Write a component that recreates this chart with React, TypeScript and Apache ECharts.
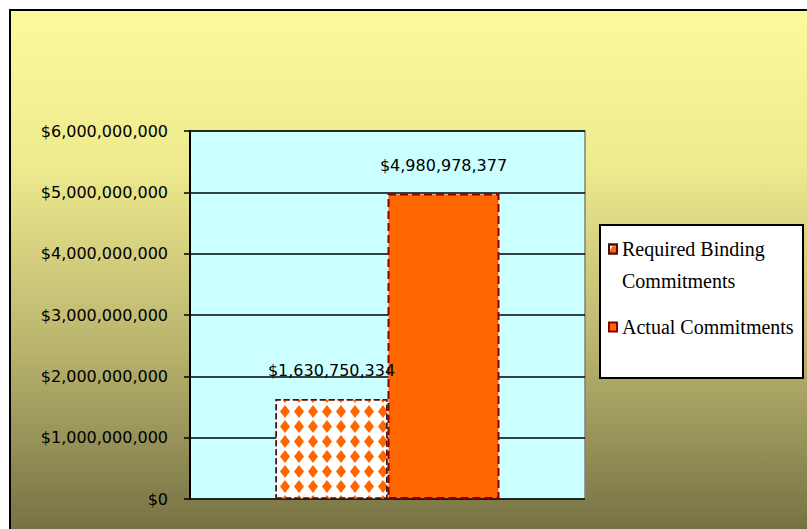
import React, { useEffect, useRef } from "react";
import * as echarts from "echarts";

const categories = ["Commitments"];
const seriesNames = ["Required Binding Commitments", "Actual Commitments"];
const requiredBinding = [1630750334];
const actualCommitments = [4980978377];
const yMin = 0;
const yMax = 6000000000;
const yInterval = 1000000000;

const fmt = (v: number) => "$" + Math.round(v).toLocaleString("en-US");

export default function App() {
  const ref = useRef<HTMLDivElement>(null);
  useEffect(() => {
    if (!ref.current) return;
    const chart = echarts.init(ref.current, null, { renderer: "svg" });
    const labelStyle = {
      show: true,
      position: "top" as const,
      distance: 20,
      color: "#000",
      fontFamily: "DejaVu Sans",
      fontSize: 16,
      formatter: (p: any) => fmt(p.value),
    };
    chart.setOption({
      animation: false,
      graphic: [
        {
          type: "rect",
          z: -10,
          shape: { x: 10, y: 10, width: 820, height: 560 },
          style: {
            fill: new echarts.graphic.LinearGradient(
              0, 10, 0, 529,
              [
                { offset: 0, color: "#fbfb9b" },
                { offset: 0.3, color: "#eeea8e" },
                { offset: 0.65, color: "#b9b46e" },
                { offset: 1, color: "#767244" },
              ],
              true
            ),
            stroke: "#000",
            lineWidth: 2,
          },
        },
        {
          type: "rect",
          z: 3,
          shape: { x: 600, y: 225, width: 203, height: 153 },
          style: { fill: "#fff", stroke: "#000", lineWidth: 2 },
        },
      ],
      grid: {
        left: 190,
        right: 222,
        top: 131,
        bottom: 30,
        show: true,
        backgroundColor: "#ccffff",
        borderColor: "#808080",
        borderWidth: 1.5,
      },
      legend: {
        orient: "vertical",
        left: 608,
        top: 201,
        padding: 0,
        itemGap: 14,
        itemWidth: 8,
        itemHeight: 9,
        icon: "rect",
        z: 5,
        textStyle: {
          fontFamily: "Liberation Serif",
          fontSize: 20,
          lineHeight: 32,
          color: "#000",
        },
        formatter: (name: string) =>
          name === seriesNames[0] ? "\nRequired Binding\nCommitments" : name,
        data: [{ name: seriesNames[0] }, { name: seriesNames[1] }],
      },
      xAxis: {
        type: "category",
        data: categories,
        axisLine: { show: false },
        axisTick: { show: false },
        axisLabel: { show: false },
      },
      yAxis: {
        type: "value",
        min: yMin,
        max: yMax,
        interval: yInterval,
        axisLine: { show: true, lineStyle: { color: "#000", width: 2 } },
        axisTick: { show: true, length: 6, lineStyle: { color: "#000", width: 1.5 } },
        axisLabel: {
          margin: 22,
          color: "#000",
          fontFamily: "DejaVu Sans",
          fontSize: 16,
          formatter: (v: number) => fmt(v),
        },
        splitLine: { show: true, lineStyle: { color: "#000", width: 1.5 } },
      },
      series: [
        {
          name: seriesNames[0],
          type: "bar",
          data: requiredBinding,
          barWidth: 112,
          barGap: "0%",
          itemStyle: {
            color: "#ffffff",
            borderColor: "#4a1010",
            borderWidth: 1.5,
            borderType: "dashed",
            decal: {
              symbol: "diamond",
              symbolSize: 1,
              color: "#ff6600",
              dashArrayX: [10, 4],
              dashArrayY: [13, 2],
              rotation: 0,
            },
          },
          label: labelStyle,
        },
        {
          name: seriesNames[1],
          type: "bar",
          data: actualCommitments,
          barWidth: 112,
          barGap: "0%",
          itemStyle: {
            color: "#ff6600",
            borderColor: "#8b0000",
            borderWidth: 2,
            borderType: "dashed",
          },
          label: labelStyle,
        },
      ],
    });
    return () => chart.dispose();
  }, []);
  return (
    <div
      ref={ref}
      style={{ position: "fixed", left: 0, top: 0, width: 807, height: 529, background: "#fff" }}
    />
  );
}
